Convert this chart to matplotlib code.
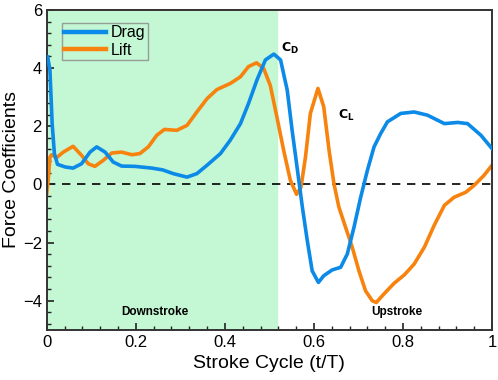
import numpy as np
import matplotlib
matplotlib.use("Agg")
from matplotlib import pyplot as plt
from matplotlib.ticker import MultipleLocator

# stroke cycle positions and force coefficients
drag_t = [0.002, 0.007, 0.012, 0.017, 0.024, 0.041, 0.059, 0.078, 0.097, 0.112,
          0.131, 0.149, 0.168, 0.198, 0.236, 0.26, 0.284, 0.315, 0.337, 0.36,
          0.39, 0.412, 0.435, 0.453, 0.472, 0.491, 0.51, 0.525, 0.54, 0.551,
          0.562, 0.574, 0.585, 0.596, 0.61, 0.622, 0.641, 0.66, 0.675, 0.69,
          0.705, 0.72, 0.735, 0.75, 0.765, 0.795, 0.825, 0.855, 0.893, 0.923,
          0.945, 0.975, 1.0]
drag_cd = [4.38, 3.93, 2.09, 1.06, 0.69, 0.60, 0.56, 0.71, 1.11, 1.29,
           1.11, 0.77, 0.63, 0.62, 0.56, 0.50, 0.37, 0.25, 0.37, 0.66,
           1.06, 1.52, 2.09, 2.78, 3.59, 4.28, 4.48, 4.28, 3.24, 1.86,
           0.60, -0.78, -1.93, -2.97, -3.37, -3.14, -2.94, -2.85, -2.39, -1.47,
           -0.44, 0.48, 1.29, 1.75, 2.15, 2.44, 2.49, 2.38, 2.09, 2.13,
           2.09, 1.69, 1.23]

lift_t = [0.0, 0.004, 0.007, 0.011, 0.022, 0.037, 0.059, 0.078, 0.093, 0.108,
          0.127, 0.146, 0.168, 0.191, 0.209, 0.228, 0.247, 0.264, 0.292, 0.315,
          0.337, 0.36, 0.382, 0.412, 0.435, 0.453, 0.471, 0.487, 0.502, 0.517,
          0.532, 0.547, 0.561, 0.571, 0.581, 0.592, 0.609, 0.622, 0.634, 0.645,
          0.656, 0.671, 0.686, 0.701, 0.716, 0.731, 0.74, 0.757, 0.78, 0.803,
          0.825, 0.848, 0.87, 0.893, 0.915, 0.941, 0.96, 0.982, 1.0]
lift_cl = [-0.3, 0.3, 0.94, 1.02, 0.92, 1.11, 1.31, 1.0, 0.71, 0.62,
           0.83, 1.08, 1.11, 1.02, 1.06, 1.29, 1.69, 1.89, 1.86, 2.03,
           2.49, 2.95, 3.26, 3.47, 3.70, 4.05, 4.18, 3.99, 3.40, 2.30,
           1.17, 0.14, -0.34, -0.09, 0.94, 2.44, 3.30, 2.67, 1.17, 0.02,
           -0.78, -1.47, -2.16, -2.97, -3.66, -4.0, -4.06, -3.77, -3.4, -3.11,
           -2.74, -2.16, -1.41, -0.72, -0.44, -0.27, -0.03, 0.31, 0.66]

downstroke_end = 0.518

plt.rcParams['font.family'] = ['Liberation Sans', 'DejaVu Sans']
fig = plt.figure(figsize=(4.98, 3.8), dpi=100)
ax = fig.add_axes([0.094, 0.132, 0.894, 0.842])

ax.axvspan(0, downstroke_end, color="#c4f7d4", zorder=0)
ax.axhline(0, color="black", linestyle=(0, (5, 4)), linewidth=1.2, zorder=1)

ax.plot(drag_t, drag_cd, color="#0c8ae8", linewidth=2.6, label="Drag", zorder=3,
        solid_joinstyle="round")
ax.plot(lift_t, lift_cl, color="#f7830e", linewidth=2.6, label="Lift", zorder=2,
        solid_joinstyle="round")

ax.text(0.527, 4.55, r"$\mathbf{C_D}$", fontsize=9)
ax.text(0.655, 2.25, r"$\mathbf{C_L}$", fontsize=9)
ax.text(0.243, -4.4, "Downstroke", fontsize=8.5, fontweight="bold", ha="center", va="center")
ax.text(0.786, -4.4, "Upstroke", fontsize=8.5, fontweight="bold", ha="center", va="center")

ax.set_xlim(0, 1)
ax.set_ylim(-5, 6)
ax.set_xticks([0, 0.2, 0.4, 0.6, 0.8, 1])
ax.set_xticklabels(["0", "0.2", "0.4", "0.6", "0.8", "1"])
ax.set_yticks([-4, -2, 0, 2, 4, 6])
ax.xaxis.set_minor_locator(MultipleLocator(0.04))
ax.yaxis.set_minor_locator(MultipleLocator(0.4))
ax.tick_params(which="both", direction="in", top=False, right=False, labelsize=12,
               color="#222222")
ax.tick_params(which="major", length=5, width=1.2)
ax.tick_params(which="minor", length=3, width=1)
for s in ax.spines.values():
    s.set_linewidth(1.4)
    s.set_color("#333333")

ax.set_xlabel("Stroke Cycle (t/T)", fontsize=14)
ax.set_ylabel("Force Coefficients", fontsize=14, labelpad=2)

leg = ax.legend(loc="upper left", bbox_to_anchor=(0.034, 0.959), fontsize=11.5,
                fancybox=False, handlelength=2.6, borderpad=0.15, labelspacing=0.15,
                handletextpad=0.3, borderaxespad=0)
leg.get_frame().set_edgecolor("#888888")
leg.get_frame().set_facecolor("none")
for line in leg.get_lines():
    line.set_linewidth(3.2)

fig.savefig("out.png", dpi=100)
